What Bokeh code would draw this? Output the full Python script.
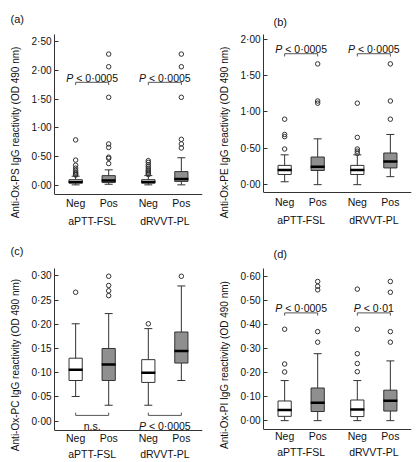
from bokeh.plotting import figure
from bokeh.models import (FactorRange, Range1d, FixedTicker, CustomJSTickFormatter,
                          ColumnDataSource, Whisker, TeeHead, Title)
from bokeh.layouts import column, row
from bokeh.embed import file_html
from bokeh.resources import INLINE
from bokeh.core.properties import value

# ---------------- data ----------------
ASSAYS = ["aPTT-FSL", "dRVVT-PL"]
STATUS = ["Neg", "Pos"]
FACTORS = [(a, s) for a in ASSAYS for s in STATUS]
FILLS = ["white", "#8f8f8f", "white", "#8f8f8f"]

# (a) anti-Ox-PS  order: aPTT Neg, aPTT Pos, dRVVT Neg, dRVVT Pos
PS_LOW = [0.01, 0.02, 0.01, 0.01]
PS_Q1 = [0.04, 0.05, 0.04, 0.07]
PS_MED = [0.06, 0.085, 0.06, 0.11]
PS_Q3 = [0.10, 0.17, 0.10, 0.24]
PS_HIGH = [0.16, 0.27, 0.17, 0.48]
PS_OUT = [[0.79, 0.44, 0.35, 0.30, 0.26, 0.23, 0.21, 0.19, 0.18],
          [2.28, 2.06, 1.53, 0.72, 0.66, 0.49, 0.47, 0.38],
          [0.43, 0.40, 0.36, 0.33, 0.30, 0.27, 0.25, 0.23, 0.21, 0.19],
          [2.28, 2.06, 1.53, 0.80, 0.72, 0.65]]
PS_TICKS = [0.0, 0.5, 1.0, 1.5, 2.0, 2.5]
PS_BRACKET_Y = [1.79, 1.79]
PS_TEXT = ["P < 0\u00b70005", "P < 0\u00b70005"]
PS_TEXT_Y = [1.87, 1.87]

# (b) anti-Ox-PE
PE_LOW = [0.04, 0.00, 0.00, 0.11]
PE_Q1 = [0.14, 0.195, 0.14, 0.23]
PE_MED = [0.20, 0.245, 0.20, 0.32]
PE_Q3 = [0.265, 0.38, 0.265, 0.435]
PE_HIGH = [0.41, 0.63, 0.41, 0.69]
PE_OUT = [[0.90, 0.69, 0.66, 0.49],
          [1.66, 1.15, 1.12],
          [1.12, 0.65, 0.49, 0.46, 0.43],
          [1.66, 1.15, 0.90]]
PE_TICKS = [0.0, 0.5, 1.0, 1.5, 2.0]
PE_BRACKET_Y = [1.80, 1.80]
PE_TEXT = ["P < 0\u00b70005", "P < 0\u00b70005"]
PE_TEXT_Y = [1.865, 1.865]

# (c) anti-Ox-PC
PC_LOW = [0.051, 0.033, 0.033, 0.084]
PC_Q1 = [0.084, 0.084, 0.080, 0.120]
PC_MED = [0.106, 0.117, 0.100, 0.145]
PC_Q3 = [0.130, 0.150, 0.127, 0.184]
PC_HIGH = [0.201, 0.222, 0.191, 0.279]
PC_OUT = [[0.266],
          [0.299, 0.280, 0.269, 0.259],
          [0.201],
          [0.299]]
PC_TICKS = [0.0, 0.05, 0.10, 0.15, 0.20, 0.25, 0.30]
PC_BRACKET_Y = [0.012, 0.012]
PC_TEXT = ["n.s.", "P < 0\u00b70005"]
PC_TEXT_Y = [-0.0095, -0.0095]

# (d) anti-Ox-PI
PI_LOW = [0.0, 0.0, 0.0, 0.0]
PI_Q1 = [0.018, 0.038, 0.017, 0.040]
PI_MED = [0.044, 0.075, 0.046, 0.083]
PI_Q3 = [0.082, 0.136, 0.086, 0.127]
PI_HIGH = [0.167, 0.279, 0.167, 0.249]
PI_OUT = [[0.381, 0.236, 0.203],
          [0.58, 0.56, 0.545, 0.371, 0.327],
          [0.548, 0.381, 0.279, 0.238, 0.204],
          [0.58, 0.535, 0.371, 0.327]]
PI_TICKS = [0.0, 0.1, 0.2, 0.3, 0.4, 0.5, 0.6]
PI_BRACKET_Y = [0.449, 0.449]
PI_TEXT = ["P < 0\u00b70005", "P < 0\u00b701"]
PI_TEXT_Y = [0.470, 0.470]

FONT = "Liberation Sans"
TXT = "#111111"
LINE = "#333333"
X_PAD = 0.14
FS = 10.5
MB_BOTTOM = 1

# approximate Arial advance widths (em) for centring the mixed italic text
ADV = {"P": 0.667, " ": 0.278, "<": 0.584, "\u00b7": 0.333, ".": 0.278,
       "n": 0.556, "s": 0.5}


def text_width(s, size):
    return sum(ADV.get(ch, 0.556) for ch in s) * size


def make_panel(letter, analyte, low, q1, med, q3, high, outs, ticks,
               br_y, br_text, br_text_y, br_down,
               y0, y_end, width, height, mbl, mbr, mbt, ax_bottom, lab_x, lab_standoff,
               title_standoff, xlab_standoff):
    # the x axis sits at y0 (fixed location); the frame extends below it for the labels
    upp = (y_end - y0) / float(ax_bottom - mbt)          # data units per pixel
    frame_bottom = height - MB_BOTTOM
    y_start = y0 - (frame_bottom - ax_bottom) * upp

    xr = FactorRange(*FACTORS, group_padding=0.2, range_padding=X_PAD,
                     range_padding_units="absolute")
    p = figure(x_range=xr, y_range=Range1d(y_start, y_end), width=width, height=height,
               output_backend="svg", toolbar_location=None, tools="",
               min_border_left=mbl, min_border_right=mbr, min_border_top=mbt,
               min_border_bottom=MB_BOTTOM, title=letter)
    p.outline_line_color = None
    p.grid.visible = False
    p.background_fill_color = "white"
    p.border_fill_color = "white"

    # panel letter as the figure title
    p.title.align = "left"
    p.title.offset = lab_x - mbl
    p.title.standoff = lab_standoff
    p.title.text_font = FONT
    p.title.text_font_size = "11px"
    p.title.text_font_style = "normal"
    p.title.text_color = TXT

    # y axis (line limited to the plotting box)
    ya = p.yaxis[0]
    ya.bounds = (y0, y_end)
    ya.ticker = FixedTicker(ticks=ticks, minor_ticks=[])
    ya.formatter = CustomJSTickFormatter(code="return tick.toFixed(2).replace('.', '\\u00b7');")
    ya.major_label_text_font = FONT
    ya.major_label_text_font_size = "10px"
    ya.major_label_text_color = TXT
    ya.major_label_standoff = 3
    ya.major_tick_in = 4
    ya.major_tick_out = 0
    ya.major_tick_line_color = LINE
    ya.minor_tick_line_color = None
    ya.axis_line_color = LINE

    # y-axis title, centred on the plotting box rather than on the taller frame
    p.add_layout(Title(text="Anti-Ox-%s IgG reactivity (OD 490 nm)" % analyte,
                       align="center", offset=(frame_bottom - ax_bottom) / 2.0,
                       standoff=title_standoff, text_font=FONT, text_font_size="10px",
                       text_font_style="normal", text_color=TXT), "left")

    # x axis: nested categories (Neg / Pos, then assay) drawn at y0
    xa = p.xaxis[0]
    xa.fixed_location = y0
    xa.major_tick_line_color = None
    xa.minor_tick_line_color = None
    xa.major_tick_out = 0
    xa.major_tick_in = 0
    xa.axis_line_color = LINE
    xa.separator_line_color = None
    xa.major_label_text_font = FONT
    xa.major_label_text_font_size = "%gpx" % FS
    xa.major_label_text_color = TXT
    xa.major_label_text_line_height = 1.0
    xa.major_label_standoff = xlab_standoff
    xa.group_text_font = FONT
    xa.group_text_font_size = "%gpx" % FS
    xa.group_text_font_style = "normal"
    xa.group_text_color = TXT
    xa.group_text_line_height = 1.0

    src = ColumnDataSource(dict(x=FACTORS, low=low, q1=q1, med=med, q3=q3, high=high,
                                fill=FILLS))
    w = Whisker(base="x", lower="low", upper="high", source=src, level="underlay",
                line_color=LINE, line_width=1,
                upper_head=TeeHead(size=8, line_color=LINE, line_width=1),
                lower_head=TeeHead(size=8, line_color=LINE, line_width=1))
    p.add_layout(w)
    p.vbar(x="x", width=0.4, bottom="q1", top="q3", fill_color="fill",
           line_color=LINE, line_width=1, source=src)
    p.scatter(x="x", y="med", marker="dash", size=14, line_color="black",
              line_width=2.5, source=src)

    ox, oy = [], []
    for f, vals in zip(FACTORS, outs):
        ox += [f] * len(vals)
        oy += vals
    p.scatter(x=ox, y=oy, marker="circle", size=4.5, fill_color=None,
              line_color=LINE, line_width=1)

    # significance brackets
    tick = 2.8 * upp * (-1 if br_down else 1)
    x0, x1, yy0, yy1 = [], [], [], []
    for a, yb in zip(ASSAYS, br_y):
        n, pz = (a, "Neg"), (a, "Pos")
        x0 += [n, n, pz]
        x1 += [pz, n, pz]
        yy0 += [yb, yb, yb]
        yy1 += [yb, yb + tick, yb + tick]
    p.segment(x0=x0, y0=yy0, x1=x1, y1=yy1, line_color="#555555", line_width=1)

    for a, t, ty in zip(ASSAYS, br_text, br_text_y):
        if t.startswith("P"):
            rest = t[1:].lstrip()
            start = -text_width(t, FS) / 2.0
            p.text(x=[a], y=[ty], text=["P"], x_offset=start, text_align="left",
                   text_baseline="alphabetic", text_font=value(FONT),
                   text_font_style="italic", text_font_size="%gpx" % FS, text_color=TXT)
            p.text(x=[a], y=[ty], text=[rest], x_offset=start + text_width("P ", FS),
                   text_align="left", text_baseline="alphabetic", text_font=value(FONT),
                   text_font_size="%gpx" % FS, text_color=TXT)
        else:
            p.text(x=[a], y=[ty], text=[t], text_align="center",
                   text_baseline="alphabetic", text_font=value(FONT),
                   text_font_size="%gpx" % FS, text_color=TXT)
    return p


pa = make_panel("(a)", "PS", PS_LOW, PS_Q1, PS_MED, PS_Q3, PS_HIGH, PS_OUT, PS_TICKS,
                PS_BRACKET_Y, PS_TEXT, PS_TEXT_Y, True,
                -0.153, 2.62, 209, 231, 45, 7, 30, 193, 1, 20, 15, 3)
pb = make_panel("(b)", "PE", PE_LOW, PE_Q1, PE_MED, PE_Q3, PE_HIGH, PE_OUT, PE_TICKS,
                PE_BRACKET_Y, PE_TEXT, PE_TEXT_Y, True,
                -0.113, 2.064, 210, 231, 45, 8, 32, 192, 55, 14, 15, 3)
pc = make_panel("(c)", "PC", PC_LOW, PC_Q1, PC_MED, PC_Q3, PC_HIGH, PC_OUT, PC_TICKS,
                PC_BRACKET_Y, PC_TEXT, PC_TEXT_Y, False,
                -0.0198, 0.315, 209, 231, 45, 7, 35, 199, 1, 23, 15, 1)
pd_ = make_panel("(d)", "PI", PI_LOW, PI_Q1, PI_MED, PI_Q3, PI_HIGH, PI_OUT, PI_TICKS,
                 PI_BRACKET_Y, PI_TEXT, PI_TEXT_Y, True,
                 -0.0355, 0.634, 210, 231, 45, 8, 33, 197, 55, 18, 15, 1)

layout = column(row(pa, pb), row(pc, pd_))
open("out.html", "w", encoding="utf-8").write(file_html(layout, INLINE))
